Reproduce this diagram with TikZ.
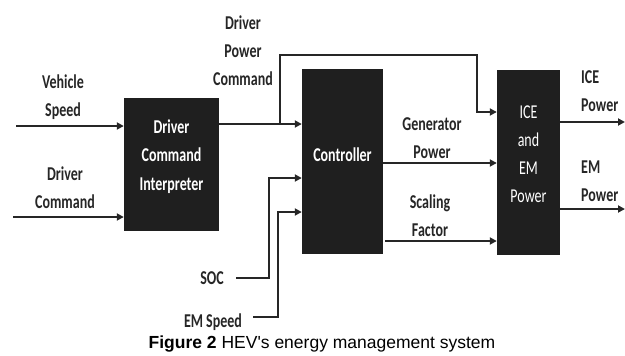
\documentclass[tikz,border=0pt]{standalone}
\usepackage{fontspec}
\usepackage{graphicx}
\setmainfont{Carlito}
\newfontfamily\capfont{Liberation Sans}
\usetikzlibrary{arrows.meta,calc}
\newcommand{\tallt}[1]{\scalebox{1}[1.4]{#1}}
\begin{document}
\begin{tikzpicture}[x=1pt,y=-1pt,
  blk/.style={draw=none,fill=black!88,inner sep=0pt},
  arr/.style={line width=2.2pt,draw=black!85,-{Triangle[length=7pt,width=7pt]}},
  ln/.style={line width=2.2pt,draw=black!85},
  lbl/.style={font=\fontsize{14}{28}\selectfont\bfseries,text=black!85,align=center,inner sep=0pt},
  wtxt/.style={font=\fontsize{14}{28.5}\selectfont\bfseries,text=white,align=center,inner sep=0pt},
  wtxtr/.style={font=\fontsize{14}{28}\selectfont,text=white,align=center,inner sep=0pt}]
\useasboundingbox (0,0) rectangle (625,356);
% boxes
\node[blk,minimum width=95pt,minimum height=133pt] (b1) at (171.5,164.5) {};
\node[blk,minimum width=81pt,minimum height=185pt] (b2) at (342.5,161.5) {};
\node[blk,minimum width=63pt,minimum height=185pt] (b3) at (528.5,162.5) {};
\node[wtxt] (b1t) at (171.5,156.5) {\tallt{Driver}\\\tallt{Command}\\\tallt{Interpreter}};
\node[wtxt] (b2t) at (342.5,155) {\tallt{Controller}};
\node[wtxtr] (b3t) at (528.5,154) {\tallt{ICE}\\\tallt{and}\\\tallt{EM}\\\tallt{Power}};
% labels
\node[lbl] (lvs) at (63,97) {\tallt{Vehicle}\\\tallt{Speed}};
\node[lbl] (ldc) at (65,188) {\tallt{Driver}\\\tallt{Command}};
\node[lbl] (ldp) at (243,51) {\tallt{Driver}\\\tallt{Power}\\\tallt{Command}};
\node[lbl] (lgp) at (432,138) {\tallt{Generator}\\\tallt{Power}};
\node[lbl] (lsf) at (430,216) {\tallt{Scaling}\\\tallt{Factor}};
\node[lbl,align=left,anchor=west] (lice) at (581,91) {\tallt{ICE}\\\tallt{Power}};
\node[lbl,align=left,anchor=west] (lem) at (581,181.5) {\tallt{EM}\\\tallt{Power}};
\node[lbl] (lsoc) at (212,278) {\tallt{SOC}};
\node[lbl] (lems) at (213,322) {\tallt{EM Speed}};
% caption
\node[font=\capfont\fontsize{17.5}{20}\selectfont,inner sep=0pt] (cap) at (322,344) {\textbf{Figure 2} HEV's energy management system};
% coordinates
\coordinate (vsin) at (16,126);
\coordinate (dcin) at (13,217);
\coordinate (br) at (280,124);
\coordinate (tl) at (280,55);
\coordinate (tr) at (477,55);
\coordinate (trd) at (477,112);
\coordinate (soc0) at (236,278);
\coordinate (soc1) at (269,278);
\coordinate (soc2) at (269,178);
\coordinate (ems0) at (253,317);
\coordinate (ems1) at (278,317);
\coordinate (ems2) at (278,212);
\coordinate (iceo) at (625,122);
\coordinate (emo) at (625,209);
% connectors
\draw[arr] (vsin) -- (vsin -| b1.west);
\draw[arr] (dcin) -- (dcin -| b1.west);
\draw[arr] (br -| b1.east) -- (br -| b2.west);
\draw[arr] (br) -- (tl) -- (tr) -- (trd) -- (trd -| b3.west);
\draw[arr] (soc0) -- (soc1) -- (soc2) -- (soc2 -| b2.west);
\draw[arr] (ems0) -- (ems1) -- (ems2) -- (ems2 -| b2.west);
\draw[arr] ($(b2.east)+(0,1.5)$) -- ($(b3.west)+(0,0.5)$);
\draw[arr] ($(b2.east)+(2,79.5)$) -- ($(b3.west)+(0,78.5)$);
\draw[arr] (iceo -| b3.east) -- (iceo);
\draw[arr] (emo -| b3.east) -- (emo);
\end{tikzpicture}
\end{document}
